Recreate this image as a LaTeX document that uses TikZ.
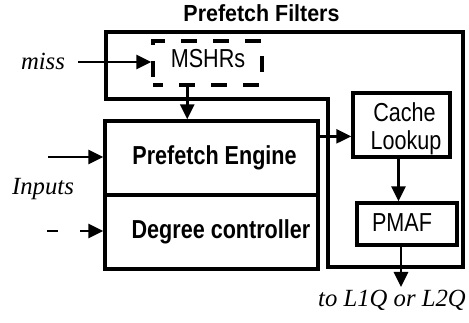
\documentclass[tikz,border=0pt]{standalone}
\usepackage{fontspec}
\setmainfont{Liberation Serif}
\newfontfamily\boxsf[FakeStretch=0.83]{Liberation Sans}
\newfontfamily\titlesf[FakeStretch=0.92]{Liberation Sans}
\usetikzlibrary{arrows.meta,calc}
\begin{document}
\begin{tikzpicture}[x=1pt,y=-1pt,
  boxline/.style={line width=3.4pt, line join=miter},
  box/.style={draw, boxline, inner sep=0pt},
  conn/.style={line width=2.7pt, -{Triangle[length=15pt,width=14pt]}},
  btext/.style={font=\boxsf\fontsize{26}{28}\selectfont, inner sep=0pt, anchor=base},
  bbold/.style={font=\boxsf\bfseries\fontsize{26}{28}\selectfont, inner sep=0pt, anchor=base},
  itext/.style={font=\itshape\fontsize{24.7}{27}\selectfont, inner sep=0pt, anchor=base}]
\useasboundingbox (0,0) rectangle (469,323);
% prefetch filters outline
\draw[boxline] (106,32) -- (463,32) -- (463,267) -- (328,267) -- (328,99) -- (106,99) -- cycle;
\node[font=\titlesf\bfseries\fontsize{23.3}{25}\selectfont, inner sep=0pt, anchor=base] (title) at (261.5,22) {Prefetch Filters};
% boxes
\node[box, dash pattern=on 16pt off 16pt, dash phase=6pt, minimum width=109pt, minimum height=44pt] (mshr) at (207.5,63) {};
\node[btext] (mshrt) at (208,68) {MSHRs};
\node[box, minimum width=213pt, minimum height=74pt] (pe) at (211.5,158) {};
\node[bbold] (pet) at (214.5,165) {Prefetch Engine};
\node[box, minimum width=213pt, minimum height=74pt] (dc) at (211.5,232) {};
\node[bbold] (dct) at (221,238.5) {Degree controller};
\node[box, minimum width=97pt, minimum height=64pt] (cl) at (401.5,125) {};
\node[btext] (clt1) at (404.5,121.7) {Cache};
\node[btext] (clt2) at (406,149.3) {Lookup};
\node[box, minimum width=100pt, minimum height=42pt] (pmaf) at (407,224) {};
\node[btext] (pmaft) at (402,231.7) {PMAF};
% labels
\node[itext] (miss) at (43,70) {miss};
\node[itext] (inputs) at (43,195) {Inputs};
\node[itext] (dest) at (392,307) {to L1Q or L2Q};
% connectors
\coordinate (missend) at (78,62);
\draw[conn] (missend) -- (missend -| mshr.west);
\coordinate (m1) at ($(mshr.south west)!0.32!(mshr.south east)$);
\draw[conn] (m1) -- (m1 |- pe.north);
\coordinate (in1) at (48,157);
\draw[conn] (in1) -- (in1 -| pe.west);
\coordinate (in2) at (47,231);
\draw[conn, dash pattern=on 11pt off 22pt] (in2) -- (in2 -| dc.west);
\coordinate (pe1) at ($(pe.north east)!0.22!(pe.south east)$);
\draw[conn] (pe1) -- (pe1 -| cl.west);
\coordinate (c1) at ([xshift=-3pt]cl.south);
\draw[conn] (c1) -- (c1 |- pmaf.north);
\coordinate (out) at (401,287);
\draw[conn] (pmaf.south -| out) -- (out);
\end{tikzpicture}
\end{document}
